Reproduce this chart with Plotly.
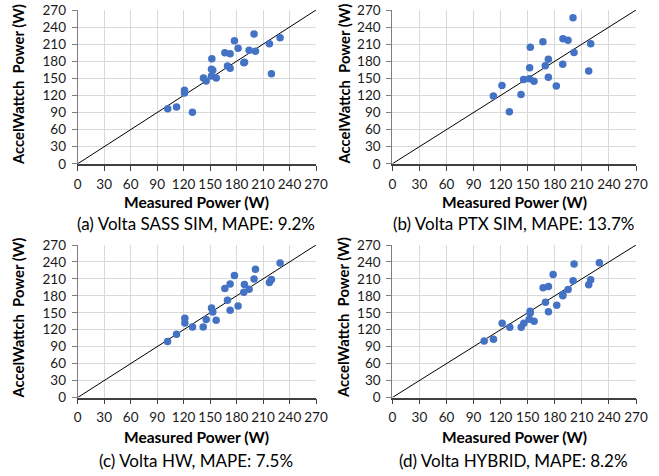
import plotly.graph_objects as go

# Panel (a) Volta SASS SIM
a_measured = [102, 112, 121, 121, 130, 142.5, 145.5, 152, 151.6, 153, 151.6, 157, 166.7, 172.7, 169.7, 172.7,
              177.6, 181.7, 188.2, 189, 194.2, 201.4, 199.8, 217.2, 219.5, 229.3]
a_model = [96.8, 99.8, 129, 124.4, 90.4, 150.8, 145.5, 184.3, 166, 164.3, 154.3, 150.8, 194.8, 193.1, 171.9, 167.8,
           216, 203, 177.2, 178.4, 199.5, 197.8, 227.7, 210.7, 157.9, 221.2]

# Panel (b) Volta PTX SIM
b_measured = [112, 121.5, 129.7, 142.6, 145.5, 151.8, 157, 152.2, 152.9, 166.9, 172.9, 169.5, 172.9, 181.7, 188.8,
              189.1, 194.7, 201.3, 200.2, 217.6, 219.8]
b_model = [119.1, 137.3, 91.5, 121.5, 147.9, 149.1, 145, 168.4, 204.8, 214.2, 183.7, 172, 152, 136.7, 174.9,
           219.5, 217.1, 195.4, 256.5, 163.1, 210.7]

# Panel (c) Volta HW
c_measured = [101.8, 112, 121.4, 121.4, 130.1, 142.2, 145.6, 151.6, 153.1, 156.9, 166.7, 169.7, 172.7, 172.7, 177.6,
              181.7, 188.9, 188.2, 194.2, 199.8, 201.4, 217.2, 219.5, 229.3]
c_model = [99.1, 112, 140.3, 132.1, 125, 125, 138, 158.6, 151.5, 136.8, 192.8, 172.2, 201.1, 154.5, 215.8,
           162.1, 199.9, 186.3, 191.6, 209.9, 227, 203.4, 208.7, 238.2]

# Panel (d) Volta HYBRID
d_measured = [101.8, 112.1, 121.7, 130.2, 142.8, 145.7, 151.6, 152.7, 152.7, 157.1, 167.1, 173, 169.7, 173, 178.2,
              182.2, 188.9, 188.9, 194.8, 200.3, 201.4, 217.6, 219.8, 229.4]
d_model = [100.1, 103, 131.4, 124.3, 124.3, 131.4, 138.5, 149.2, 152.8, 135, 194.2, 196.6, 168.7, 151.6, 217.9,
           163.4, 180, 182.4, 191.2, 206.6, 236.2, 199.5, 208.4, 238.6]

captions = ["(a) Volta SASS SIM, MAPE: 9.2%", "(b) Volta PTX SIM, MAPE: 13.7%",
            "(c) Volta HW, MAPE: 7.5%", "(d) Volta HYBRID, MAPE: 8.2%"]
tick_vals = [0, 30, 60, 90, 120, 150, 180, 210, 240, 270]
axis_range = [0, 270]
x_title = "Measured Power (W)"
y_title = "AccelWattch  Power (W)"

W, H = 659, 476
FONT = "Lato"
panels = [(a_measured, a_model), (b_measured, b_model), (c_measured, c_model), (d_measured, d_model)]
# screen pixel boxes: (left, right, top, bottom)
boxes = [(77.7, 316, 10, 163.8), (392.3, 636, 10, 163.8),
         (77.7, 316, 245, 397.5), (392.3, 636, 245, 397.5)]
ytitle_x = [17.5, 343, 17.5, 343]
ytitle_y = [84.5, 84.5, 318, 318]
xtitle_y = [201.7, 201.7, 436.5, 436.5]
caption_y = [223, 223, 460, 460]


def px(x):
    return x / W


def py(y):
    return 1 - y / H


fig = go.Figure()
layout = dict(width=W, height=H, margin=dict(l=0, r=0, t=0, b=0, autoexpand=False),
              paper_bgcolor="white", plot_bgcolor="white", showlegend=False,
              font=dict(family=FONT, size=12, color="#000000"))
annotations = []
for i, ((mx, my), (l, r, t, b)) in enumerate(zip(panels, boxes)):
    n = "" if i == 0 else str(i + 1)
    xa, ya = "x" + n, "y" + n
    fig.add_trace(go.Scatter(x=axis_range, y=axis_range, mode="lines",
                             line=dict(color="black", width=1), xaxis=xa, yaxis=ya,
                             hoverinfo="skip"))
    fig.add_trace(go.Scatter(x=mx, y=my, mode="markers",
                             marker=dict(color="#4472C4", size=7.5), xaxis=xa, yaxis=ya))
    common = dict(range=axis_range, tickvals=tick_vals, showgrid=True, gridcolor="#d9d9d9",
                  gridwidth=1, zeroline=False, showline=True, ticks="outside", ticklen=5,
                  automargin=False, tickfont=dict(family=FONT, size=13.5, color="#1a1a1a"))
    layout["xaxis" + n] = dict(domain=[px(l), px(r)], anchor=ya, linecolor="#404040", linewidth=1.5,
                               tickcolor="#404040", ticklabelstandoff=2, **common)
    layout["yaxis" + n] = dict(domain=[py(b), py(t)], anchor=xa, linecolor="#7f7f7f", linewidth=1,
                               tickcolor="#7f7f7f", ticklabelstandoff=3, **common)
    cx = (l + r) / 2
    annotations.append(dict(x=px(cx), y=py(xtitle_y[i]), xref="paper", yref="paper",
                            xanchor="center", yanchor="middle",
                            text="<b>" + x_title + "</b>", showarrow=False,
                            font=dict(family=FONT, size=15.5, color="black")))
    annotations.append(dict(x=px(cx - 1), y=py(caption_y[i]), xref="paper", yref="paper",
                            xanchor="center", yanchor="middle",
                            text=captions[i], showarrow=False,
                            font=dict(family=FONT, size=17, color="black")))
    annotations.append(dict(x=px(ytitle_x[i]), y=py(ytitle_y[i]), xref="paper", yref="paper",
                            xanchor="center", yanchor="middle",
                            text="<b>" + y_title + "</b>", showarrow=False, textangle=-90,
                            font=dict(family=FONT, size=14.8, color="black")))
layout["annotations"] = annotations
fig.update_layout(**layout)
fig.write_html("out.html", config={"displayModeBar": False},
               post_script="document.body.style.margin='0';")
